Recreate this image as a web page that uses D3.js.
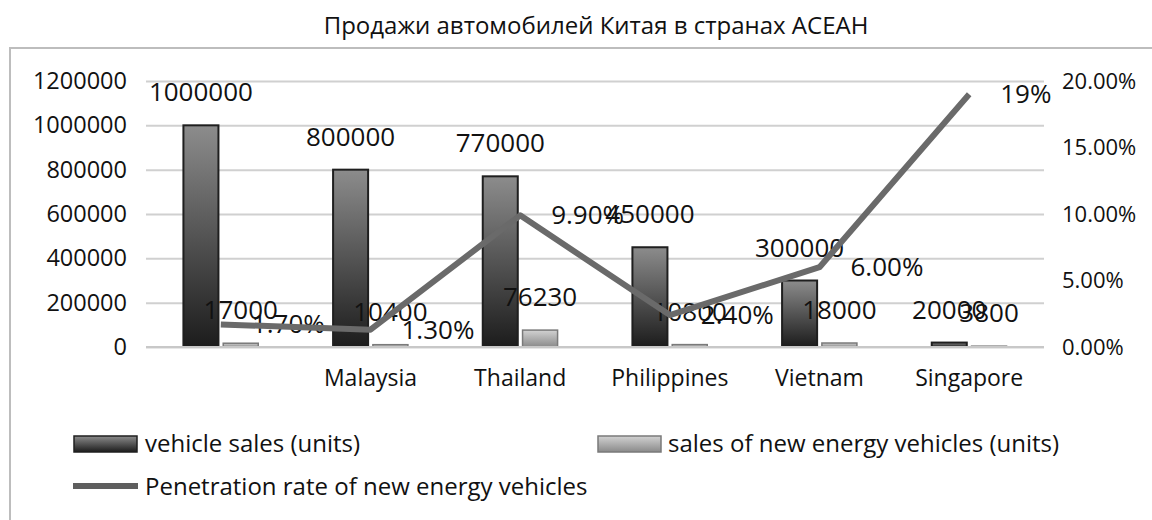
<!DOCTYPE html>
<html>
<head>
<meta charset="utf-8">
<script src="https://cdn.jsdelivr.net/npm/d3@7"></script>
<style>
  body { margin: 0; background: #fff; }
  svg { display: block; font-family: "Open Sans", sans-serif; }
</style>
</head>
<body>
<div id="chart"></div>
<script>
const countries = ["", "Malaysia", "Thailand", "Philippines", "Vietnam", "Singapore"];
const vehicleSales = [1000000, 800000, 770000, 450000, 300000, 20000];
const nevSales = [17000, 10400, 76230, 10800, 18000, 3800];
const penetration = [0.017, 0.013, 0.099, 0.024, 0.06, 0.19];
const penetrationLabels = ["1.70%", "1.30%", "9.90%", "2.40%", "6.00%", "19%"];
const leftTicks = [0, 200000, 400000, 600000, 800000, 1000000, 1200000];
const rightTicks = [0, 0.05, 0.10, 0.15, 0.20];

const W = 1152, H = 520;
const margin = { left: 146, right: 108, top: 81, bottom: 173 };

const svg = d3.select("#chart").append("svg")
    .attr("width", W)
    .attr("height", H);

// gradients
const defs = svg.append("defs");
const g1 = defs.append("linearGradient").attr("id", "darkGrad")
    .attr("x1", 0).attr("y1", 0).attr("x2", 0).attr("y2", 1);
g1.append("stop").attr("offset", "0%").attr("stop-color", "#8c8c8c");
g1.append("stop").attr("offset", "100%").attr("stop-color", "#1c1c1c");
const g2 = defs.append("linearGradient").attr("id", "lightGrad")
    .attr("x1", 0).attr("y1", 0).attr("x2", 0).attr("y2", 1);
g2.append("stop").attr("offset", "0%").attr("stop-color", "#d2d2d2");
g2.append("stop").attr("offset", "100%").attr("stop-color", "#8a8a8a");

// outer frame
svg.append("path")
    .attr("d", `M ${W + 5} 48 H 10 V ${H + 5}`)
    .attr("fill", "none")
    .attr("stroke", "#bdbdbd")
    .attr("stroke-width", 2);

svg.append("text")
    .attr("x", 596)
    .attr("y", 34)
    .attr("text-anchor", "middle")
    .style("font-size", "24px")
    .attr("fill", "#111")
    .text("Продажи автомобилей Китая в странах АСЕАН");

const x = d3.scaleBand()
    .domain(countries)
    .range([margin.left, W - margin.right]);

const x1 = d3.scaleBand()
    .domain(["total", "nev"])
    .range([x.bandwidth() * 0.25, x.bandwidth() * 0.75])
    .paddingInner(0.12);

const y = d3.scaleLinear()
    .domain([0, 1200000])
    .range([H - margin.bottom, margin.top]);

const yR = d3.scaleLinear()
    .domain([0, 0.20])
    .range([H - margin.bottom, margin.top]);

// grid
svg.append("g")
    .attr("transform", `translate(${margin.left},0)`)
    .call(d3.axisLeft(y).tickValues(leftTicks)
        .tickSize(-(W - margin.left - margin.right))
        .tickFormat(""))
    .call(g => g.select(".domain").remove())
    .call(g => g.selectAll("line").attr("stroke", "#d0d0d0").attr("stroke-width", 2));

// left axis labels
svg.append("g")
    .attr("transform", `translate(${margin.left},0)`)
    .call(d3.axisLeft(y).tickValues(leftTicks).tickSize(0).tickPadding(19)
        .tickFormat(d3.format("d")))
    .call(g => g.select(".domain").remove())
    .call(g => g.selectAll("text").style("font-size", "23.5px").attr("fill", "#111")
        .style("font-family", "Open Sans"));

// right axis labels
svg.append("g")
    .attr("transform", `translate(${W - margin.right},0)`)
    .call(d3.axisRight(yR).tickValues(rightTicks).tickSize(0).tickPadding(18)
        .tickFormat(d3.format(".2%")))
    .call(g => g.select(".domain").remove())
    .call(g => g.selectAll("text").style("font-size", "22px").attr("fill", "#111")
        .style("font-family", "Open Sans"));

// category labels
svg.append("g")
    .attr("transform", `translate(0,${H - margin.bottom})`)
    .call(d3.axisBottom(x).tickSize(0).tickPadding(23))
    .call(g => g.select(".domain").remove())
    .call(g => g.selectAll("text").style("font-size", "23px").attr("fill", "#111")
        .style("font-family", "Open Sans"));

const rows = countries.map((c, i) => ({
    country: c,
    total: vehicleSales[i],
    nev: nevSales[i],
    rate: penetration[i],
    rateLabel: penetrationLabels[i]
}));

const groups = svg.append("g").selectAll("g")
    .data(rows)
    .join("g")
    .attr("transform", d => `translate(${x(d.country)},0)`);

groups.append("rect")
    .attr("x", x1("total"))
    .attr("width", x1.bandwidth())
    .attr("y", d => y(d.total))
    .attr("height", d => y(0) - y(d.total))
    .attr("fill", "url(#darkGrad)")
    .attr("stroke", "#1f1f1f")
    .attr("stroke-width", 2);

groups.append("rect")
    .attr("x", x1("nev"))
    .attr("width", x1.bandwidth())
    .attr("y", d => y(d.nev))
    .attr("height", d => y(0) - y(d.nev))
    .attr("fill", "url(#lightGrad)")
    .attr("stroke", "#7a7a7a")
    .attr("stroke-width", 1.5);

// baseline
svg.append("line")
    .attr("x1", margin.left).attr("x2", W - margin.right)
    .attr("y1", y(0)).attr("y2", y(0))
    .attr("stroke", "#c8c8c8").attr("stroke-width", 2);

// penetration line
const line = d3.line()
    .x(d => x(d.country) + x.bandwidth() / 2)
    .y(d => yR(d.rate));

svg.append("path")
    .datum(rows)
    .attr("fill", "none")
    .attr("stroke", "#6a6a6a")
    .attr("stroke-width", 6)
    .attr("stroke-linejoin", "round")
    .attr("d", line);

// bar value labels
groups.append("text")
    .attr("x", x1("total") + x1.bandwidth() / 2)
    .attr("y", d => y(d.total) - 33)
    .attr("dy", "0.35em")
    .attr("text-anchor", "middle")
    .style("font-size", "26px")
    .attr("fill", "#111")
    .text(d => d.total);

groups.append("text")
    .attr("x", x1("nev") + x1.bandwidth() / 2)
    .attr("y", d => y(d.nev) - 33)
    .attr("dy", "0.35em")
    .attr("text-anchor", "middle")
    .style("font-size", "26px")
    .attr("fill", "#111")
    .text(d => d.nev);

groups.append("text")
    .attr("x", x.bandwidth() / 2 + 31)
    .attr("y", d => yR(d.rate))
    .attr("dy", "0.35em")
    .style("font-size", "26px")
    .attr("fill", "#111")
    .text(d => d.rateLabel);

// legend
const legend = svg.append("g");
legend.append("rect")
    .attr("x", 74).attr("y", 436).attr("width", 63).attr("height", 16)
    .attr("fill", "url(#darkGrad)").attr("stroke", "#1f1f1f").attr("stroke-width", 1.5);
legend.append("text")
    .attr("x", 145).attr("y", 444).attr("dy", "0.35em")
    .style("font-size", "24px").attr("fill", "#111")
    .text("vehicle sales (units)");

legend.append("rect")
    .attr("x", 598).attr("y", 436).attr("width", 63).attr("height", 16)
    .attr("fill", "url(#lightGrad)").attr("stroke", "#7a7a7a").attr("stroke-width", 1.5);
legend.append("text")
    .attr("x", 668).attr("y", 444).attr("dy", "0.35em")
    .style("font-size", "24px").attr("fill", "#111")
    .text("sales of new energy vehicles (units)");

legend.append("line")
    .attr("x1", 73).attr("x2", 138).attr("y1", 486).attr("y2", 486)
    .attr("stroke", "#5e5e5e").attr("stroke-width", 6);
legend.append("text")
    .attr("x", 145).attr("y", 487).attr("dy", "0.35em")
    .style("font-size", "24px").attr("fill", "#111")
    .text("Penetration rate of new energy vehicles");
</script>
</body>
</html>
